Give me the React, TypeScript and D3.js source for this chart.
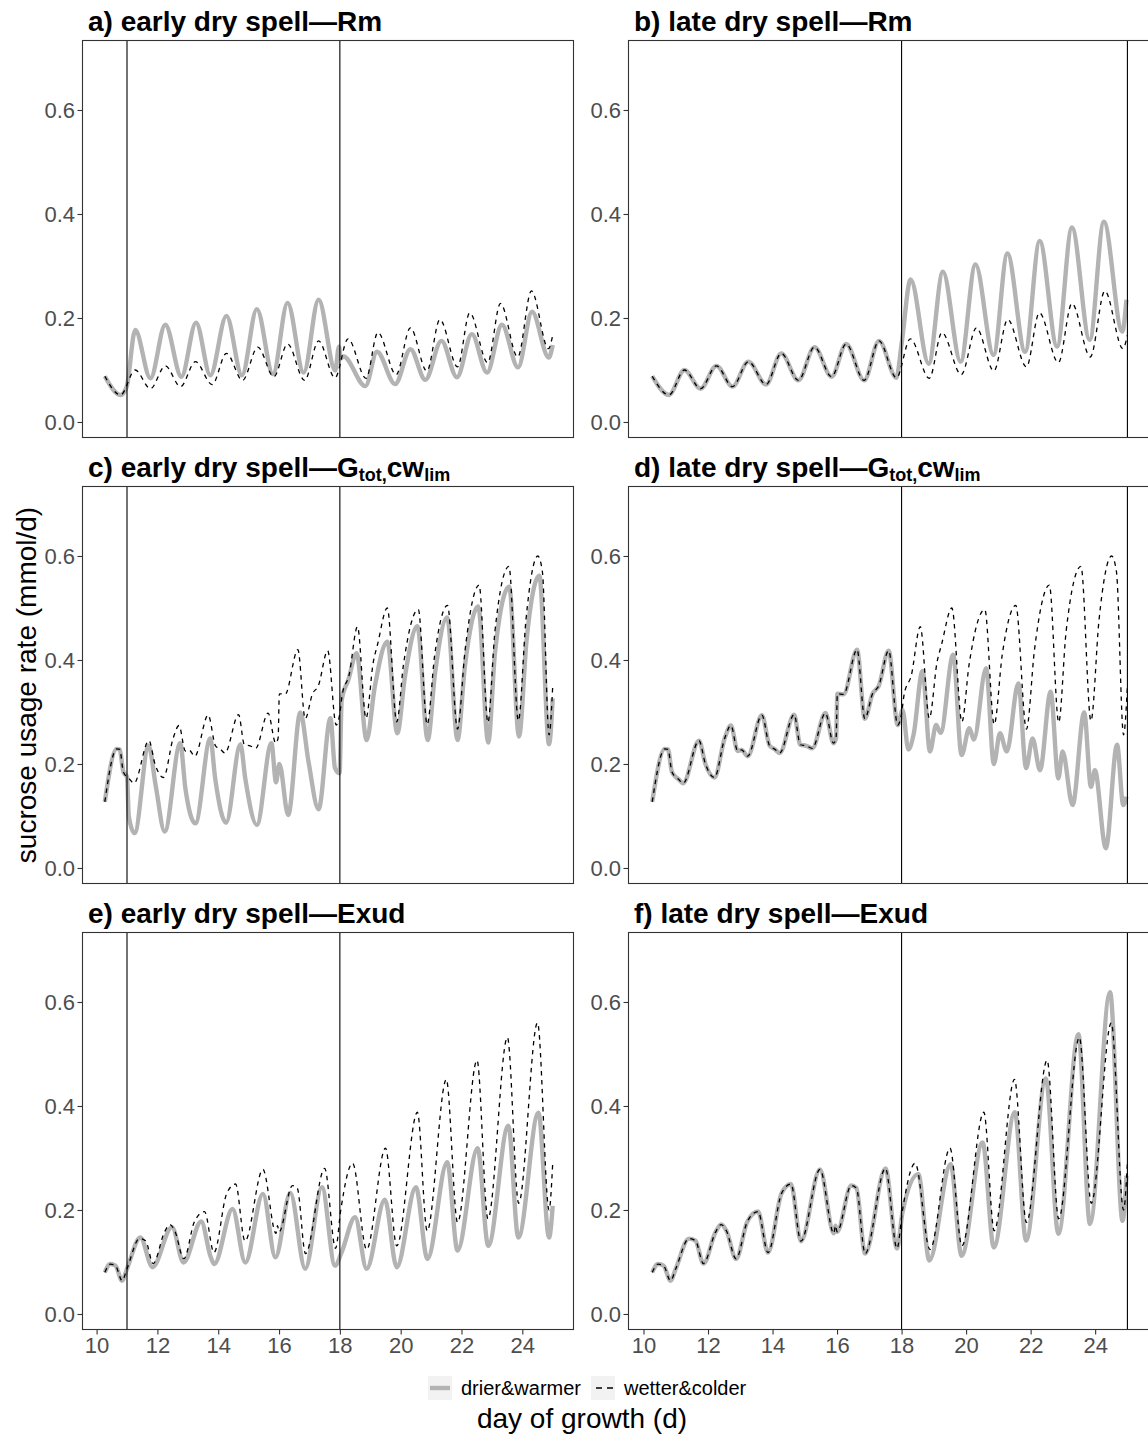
import React, { useRef, useEffect } from 'react';
import * as d3 from 'd3';

type Pt = [number, number];

const dayTicks = [10, 12, 14, 16, 18, 20, 22, 24];
const rateTicks = [0, 0.2, 0.4, 0.6];
const legendLabels = ['drier&warmer', 'wetter&colder'];

// Rm: wetter&colder reference run (same in a and b)
const rmWetter: Pt[] = [
  [10.27, 0.088], [10.79, 0.052], [11.27, 0.1], [11.77, 0.064], [12.26, 0.108], [12.76, 0.068],
  [13.25, 0.116], [13.8, 0.072], [14.27, 0.132], [14.8, 0.08], [15.3, 0.144], [15.83, 0.087],
  [16.28, 0.15], [16.84, 0.08], [17.3, 0.156], [17.84, 0.085], [18.27, 0.16], [18.86, 0.084],
  [19.25, 0.172], [19.85, 0.091], [20.32, 0.181], [20.86, 0.098], [21.29, 0.197], [21.87, 0.106],
  [22.27, 0.21], [22.86, 0.114], [23.28, 0.228], [23.85, 0.125], [24.3, 0.252], [24.86, 0.141],
  [25.0, 0.167],
];
const rmEarlyDrierAfter: Pt[] = [
  [10.99, 0.068], [11.27, 0.177], [11.77, 0.084], [12.26, 0.187], [12.79, 0.087], [13.27, 0.191],
  [13.74, 0.09], [14.27, 0.204], [14.78, 0.09], [15.27, 0.217], [15.8, 0.092], [16.28, 0.229],
  [16.81, 0.095], [17.3, 0.235], [17.85, 0.099], [17.97, 0.145], [18.03, 0.122], [18.12, 0.126],
  [18.84, 0.069], [19.22, 0.135], [19.82, 0.073], [20.32, 0.14], [20.81, 0.081], [21.34, 0.156],
  [21.85, 0.086], [22.34, 0.169], [22.84, 0.095], [23.33, 0.187], [23.86, 0.105], [24.32, 0.212],
  [24.87, 0.124], [25.0, 0.148],
];
const rmLateDrierAfter: Pt[] = [
  [18.0, 0.15], [18.28, 0.274], [18.84, 0.112], [19.28, 0.289], [19.83, 0.116], [20.29, 0.303],
  [20.85, 0.129], [21.28, 0.324], [21.83, 0.135], [22.28, 0.348], [22.82, 0.145], [23.28, 0.374],
  [23.83, 0.158], [24.27, 0.385], [24.84, 0.174], [24.97, 0.235],
];

// Gtot,cwlim
const gWetter: Pt[] = [
  [10.27, 0.127], [10.66, 0.229], [10.76, 0.228], [10.88, 0.185], [11.0, 0.175], [11.08, 0.171],
  [11.23, 0.163], [11.72, 0.245], [11.92, 0.2], [12.2, 0.174], [12.52, 0.25], [12.71, 0.274],
  [12.92, 0.225], [13.04, 0.227], [13.23, 0.215], [13.67, 0.294], [13.91, 0.235], [14.08, 0.228],
  [14.22, 0.221], [14.67, 0.295], [14.86, 0.237], [15.05, 0.235], [15.23, 0.23], [15.64, 0.298],
  [15.89, 0.24], [15.97, 0.25], [16.01, 0.335], [16.2, 0.334], [16.62, 0.42], [16.86, 0.287],
  [17.1, 0.335], [17.29, 0.35], [17.6, 0.418], [17.88, 0.275], [18.0, 0.297], [18.08, 0.334],
  [18.3, 0.37], [18.58, 0.464], [18.86, 0.288], [19.1, 0.396], [19.24, 0.43], [19.56, 0.5],
  [19.87, 0.281], [20.09, 0.39], [20.58, 0.497], [20.87, 0.276], [21.12, 0.41], [21.54, 0.505],
  [21.87, 0.267], [22.12, 0.42], [22.58, 0.544], [22.87, 0.28], [23.1, 0.455], [23.56, 0.58],
  [23.87, 0.283], [24.12, 0.477], [24.51, 0.6], [24.66, 0.57], [24.88, 0.256], [25.0, 0.35],
];
const gEarlyDrierAfter: Pt[] = [
  [11.06, 0.099], [11.25, 0.067], [11.71, 0.235], [11.95, 0.156], [12.24, 0.07], [12.75, 0.24],
  [12.92, 0.153], [13.25, 0.086], [13.74, 0.249], [13.9, 0.172], [14.26, 0.087], [14.73, 0.238],
  [14.89, 0.172], [15.27, 0.083], [15.75, 0.24], [15.9, 0.165], [16.01, 0.2], [16.3, 0.102],
  [16.7, 0.299], [16.97, 0.204], [17.3, 0.113], [17.69, 0.288], [17.84, 0.192], [17.99, 0.182],
  [18.06, 0.323], [18.28, 0.362], [18.55, 0.413], [18.88, 0.246], [19.15, 0.349], [19.56, 0.435],
  [19.89, 0.259], [20.14, 0.368], [20.55, 0.465], [20.89, 0.246], [21.13, 0.374], [21.53, 0.482],
  [21.87, 0.246], [22.11, 0.387], [22.55, 0.503], [22.88, 0.241], [23.1, 0.413], [23.57, 0.541],
  [23.89, 0.253], [24.14, 0.438], [24.56, 0.562], [24.88, 0.238], [25.0, 0.326],
];
const gLateDrierAfter: Pt[] = [
  [18.03, 0.304], [18.21, 0.228], [18.37, 0.256], [18.65, 0.379], [18.88, 0.224], [19.07, 0.275],
  [19.21, 0.26], [19.6, 0.41], [19.86, 0.217], [20.1, 0.269], [20.24, 0.247], [20.62, 0.384],
  [20.86, 0.2], [21.05, 0.259], [21.26, 0.224], [21.62, 0.355], [21.86, 0.192], [22.06, 0.249],
  [22.29, 0.188], [22.62, 0.339], [22.86, 0.172], [22.99, 0.224], [23.3, 0.121], [23.66, 0.299],
  [23.87, 0.156], [23.99, 0.188], [24.33, 0.038], [24.68, 0.237], [24.87, 0.121], [24.97, 0.137],
];

// Exud
const exWetter: Pt[] = [
  [10.27, 0.08], [10.45, 0.096], [10.62, 0.093], [10.84, 0.064], [11.0, 0.087], [11.41, 0.145],
  [11.61, 0.141], [11.86, 0.097], [12.23, 0.157], [12.41, 0.172], [12.57, 0.16], [12.87, 0.106],
  [13.22, 0.178], [13.55, 0.197], [13.86, 0.118], [14.28, 0.232], [14.57, 0.25], [14.88, 0.14],
  [15.47, 0.278], [15.9, 0.155], [15.95, 0.17], [16.0, 0.158], [16.44, 0.247], [16.6, 0.242],
  [16.87, 0.116], [17.5, 0.28], [17.86, 0.126], [18.03, 0.2], [18.42, 0.29], [18.88, 0.124],
  [19.5, 0.319], [19.87, 0.131], [20.55, 0.388], [20.87, 0.16], [21.5, 0.451], [21.87, 0.176],
  [22.51, 0.488], [22.87, 0.183], [23.51, 0.532], [23.88, 0.213], [24.5, 0.56], [24.88, 0.2],
  [25.0, 0.29],
];
const exEarlyDrierAfter: Pt[] = [
  [11.44, 0.147], [11.84, 0.09], [12.48, 0.167], [12.86, 0.099], [13.44, 0.178], [13.75, 0.11],
  [13.87, 0.096], [14.47, 0.202], [14.89, 0.099], [15.47, 0.231], [15.88, 0.109], [16.37, 0.233],
  [16.86, 0.087], [17.41, 0.244], [17.84, 0.093], [18.06, 0.119], [18.5, 0.186], [18.88, 0.087],
  [19.48, 0.22], [19.87, 0.09], [20.5, 0.244], [20.88, 0.106], [21.53, 0.292], [21.87, 0.122],
  [22.53, 0.319], [22.88, 0.131], [23.54, 0.362], [23.87, 0.147], [24.53, 0.387], [24.88, 0.147],
  [25.0, 0.208],
];
const exLateDrierAfter: Pt[] = [
  [18.03, 0.196], [18.52, 0.269], [18.86, 0.103], [19.52, 0.288], [19.86, 0.112], [20.51, 0.33],
  [20.86, 0.128], [21.51, 0.388], [21.86, 0.141], [22.47, 0.453], [22.86, 0.154], [23.48, 0.538],
  [23.84, 0.173], [24.46, 0.619], [24.85, 0.179], [24.97, 0.266],
];

// drier run follows the wetter run until the dry spell starts
const upTo = (s: Pt[], d: number) => s.filter((p) => p[0] < d);

type Part = { t: string; sub?: boolean };
const panels = [
  { title: [{ t: 'a) early dry spell—Rm' }] as Part[], col: 0, row: 0, drier: [...upTo(rmWetter, 10.9), ...rmEarlyDrierAfter], wetter: rmWetter, spell: [11, 18] },
  { title: [{ t: 'b) late dry spell—Rm' }] as Part[], col: 1, row: 0, drier: [...upTo(rmWetter, 17.95), ...rmLateDrierAfter], wetter: rmWetter, spell: [18, 25] },
  { title: [{ t: 'c) early dry spell—G' }, { t: 'tot', sub: true }, { t: ',', sub: true }, { t: 'cw' }, { t: 'lim', sub: true }] as Part[], col: 0, row: 1, drier: [...upTo(gWetter, 11.01), ...gEarlyDrierAfter], wetter: gWetter, spell: [11, 18] },
  { title: [{ t: 'd) late dry spell—G' }, { t: 'tot', sub: true }, { t: ',', sub: true }, { t: 'cw' }, { t: 'lim', sub: true }] as Part[], col: 1, row: 1, drier: [...upTo(gWetter, 17.95), ...gLateDrierAfter], wetter: gWetter, spell: [18, 25] },
  { title: [{ t: 'e) early dry spell—Exud' }] as Part[], col: 0, row: 2, drier: [...upTo(exWetter, 11.01), ...exEarlyDrierAfter], wetter: exWetter, spell: [11, 18] },
  { title: [{ t: 'f) late dry spell—Exud' }] as Part[], col: 1, row: 2, drier: [...upTo(exWetter, 17.95), ...exLateDrierAfter], wetter: exWetter, spell: [18, 25] },
];

const FONT = '"Liberation Sans", Arial, sans-serif';
const W = 1148;
const H = 1436;

const App = () => {
  const svgRef = useRef<SVGSVGElement>(null);

  useEffect(() => {
    const svg = d3.select(svgRef.current);
    svg.selectAll('*').remove();

    const panelH = 398;
    const rowStep = 446;

    panels.forEach((p, i) => {
      const left = p.col === 0 ? 82 : 628;
      const right = p.col === 0 ? 574 : 1150;
      const top = 40 + p.row * rowStep;
      const bottom = top + panelH;

      const x = d3.scaleLinear().domain([9.52, 25.7]).range([left, right]);
      const y = d3.scaleLinear().domain([-0.0308, 0.7346]).range([bottom, top]);

      const clipId = `clip-${i}`;
      svg.append('clipPath').attr('id', clipId)
        .append('rect').attr('x', left).attr('y', top).attr('width', right - left).attr('height', panelH);

      const g = svg.append('g');
      const inner = g.append('g').attr('clip-path', `url(#${clipId})`);

      const line = d3.line<Pt>().x((d) => x(d[0])).y((d) => y(d[1])).curve(d3.curveMonotoneX);

      inner.append('path').datum(p.drier).attr('d', line)
        .attr('fill', 'none').attr('stroke', '#b3b3b3').attr('stroke-width', 4.4)
        .attr('stroke-linejoin', 'round').attr('stroke-linecap', 'butt');
      inner.append('path').datum(p.wetter).attr('d', line)
        .attr('fill', 'none').attr('stroke', '#000').attr('stroke-width', 1.3)
        .attr('stroke-dasharray', '4.5,4.5');

      inner.selectAll('.spell').data(p.spell).join('line')
        .attr('x1', (d) => x(d)).attr('x2', (d) => x(d))
        .attr('y1', top).attr('y2', bottom)
        .attr('stroke', '#000').attr('stroke-width', 1.1);

      g.append('rect').attr('x', left + 0.5).attr('y', top + 0.5)
        .attr('width', right - left - 1).attr('height', panelH - 1)
        .attr('fill', 'none').attr('stroke', '#333333').attr('stroke-width', 1.1);

      // y axis
      const yAxis = d3.axisLeft(y).tickValues(rateTicks).tickFormat(d3.format('.1f')).tickSize(4.5).tickPadding(2.5);
      const ya = g.append('g').attr('transform', `translate(${left},0)`).call(yAxis);
      ya.select('.domain').remove();
      ya.selectAll('line').attr('stroke', '#333333').attr('stroke-width', 1.1);
      ya.selectAll('text').attr('fill', '#4d4d4d').style('font-size', '22px').style('font-family', FONT);

      // x axis only on bottom row
      if (p.row === 2) {
        const xAxis = d3.axisBottom(x).tickValues(dayTicks).tickFormat(d3.format('d')).tickSize(4.5).tickPadding(2.5);
        const xa = g.append('g').attr('transform', `translate(0,${bottom})`).call(xAxis);
        xa.select('.domain').remove();
        xa.selectAll('line').attr('stroke', '#333333').attr('stroke-width', 1.1);
        xa.selectAll('text').attr('fill', '#4d4d4d').style('font-size', '22px').style('font-family', FONT);
      }

      // title
      const title = g.append('text').attr('x', left + 6).attr('y', top - 9)
        .style('font-family', FONT).style('font-weight', 'bold').style('font-size', '28px').attr('fill', '#000');
      let shifted = false;
      p.title.forEach((part) => {
        const ts = title.append('tspan').text(part.t);
        if (part.sub && !shifted) { ts.attr('dy', 4); shifted = true; }
        if (!part.sub && shifted) { ts.attr('dy', -4); shifted = false; }
        if (part.sub) ts.style('font-size', '18px');
      });
    });

    // axis titles
    svg.append('text').attr('x', 582).attr('y', 1428).attr('text-anchor', 'middle')
      .style('font-family', FONT).style('font-size', '28px').attr('fill', '#000')
      .text('day of growth (d)');
    svg.append('text').attr('transform', 'translate(36,685) rotate(-90)').attr('text-anchor', 'middle')
      .style('font-family', FONT).style('font-size', '28px').attr('fill', '#000')
      .text('sucrose usage rate (mmol/d)');

    // legend
    const lg = svg.append('g');
    const keyX = [428, 591];
    const keyY = 1376;
    legendLabels.forEach((lab, i) => {
      lg.append('rect').attr('x', keyX[i]).attr('y', keyY).attr('width', 24).attr('height', 24).attr('fill', '#f2f2f2');
      const l = lg.append('line').attr('x1', keyX[i] + 2).attr('x2', keyX[i] + 22)
        .attr('y1', keyY + 12).attr('y2', keyY + 12);
      if (i === 0) l.attr('stroke', '#b3b3b3').attr('stroke-width', 4.4);
      else l.attr('stroke', '#000').attr('stroke-width', 1.3).attr('stroke-dasharray', '6,5').attr('x1', keyX[i] + 5);
      lg.append('text').attr('x', keyX[i] + 33).attr('y', keyY + 19)
        .style('font-family', FONT).style('font-size', '20px').attr('fill', '#000').text(lab);
    });
  }, []);

  return (
    <div style={{ position: 'absolute', left: 0, top: 0 }}>
      <svg ref={svgRef} width={W} height={H} style={{ display: 'block', background: '#fff' }}></svg>
    </div>
  );
};

export default App;
